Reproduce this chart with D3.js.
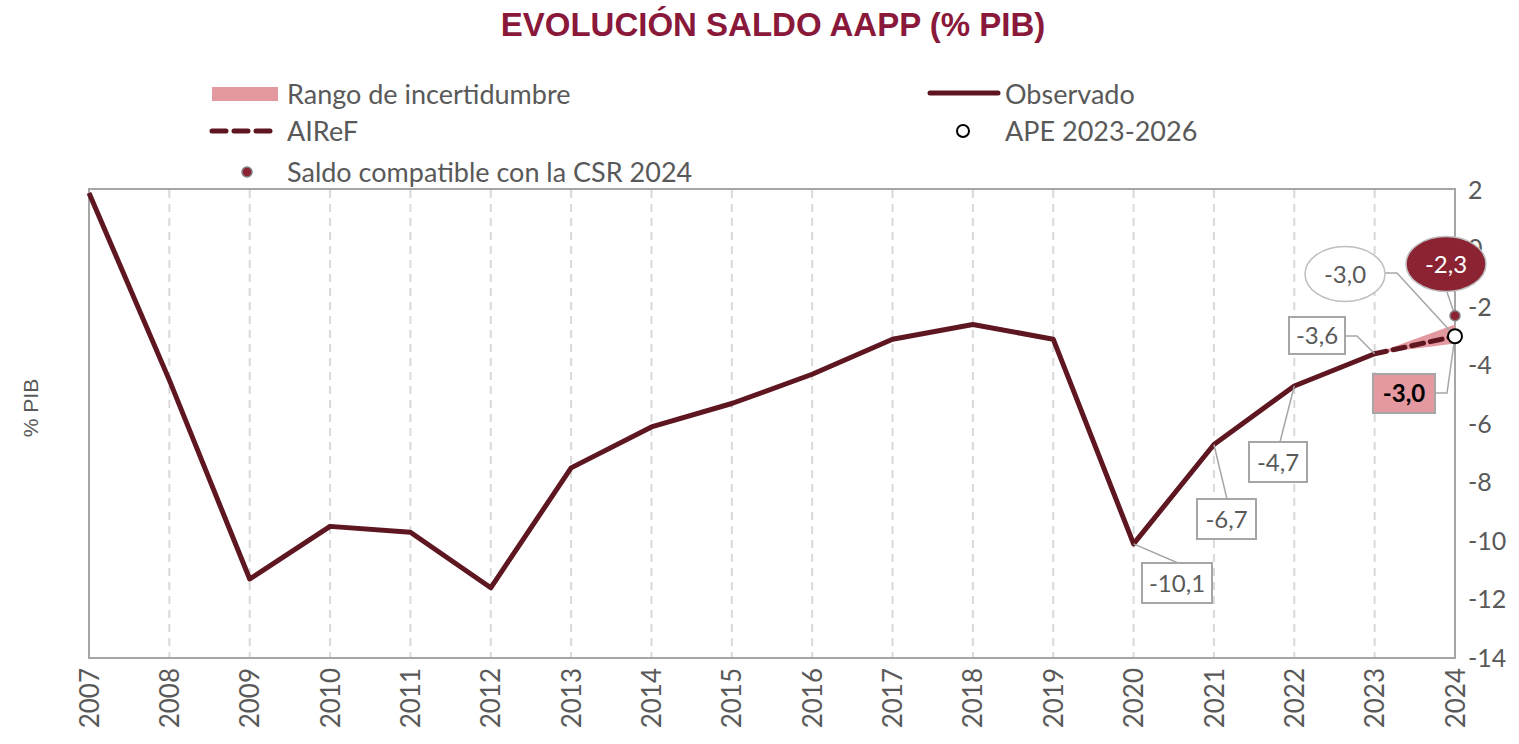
<!DOCTYPE html>
<html><head><meta charset="utf-8">
<script src="https://cdn.jsdelivr.net/npm/d3@7"></script>
<style>body{margin:0;background:#fff}svg{display:block}</style>
</head><body><svg id="c" width="1519" height="744"></svg>
<script>
const years = [2007,2008,2009,2010,2011,2012,2013,2014,2015,2016,2017,2018,2019,2020,2021,2022,2023];
const observed = [1.9,-4.5,-11.3,-9.5,-9.7,-11.6,-7.5,-6.1,-5.3,-4.3,-3.1,-2.6,-3.1,-10.1,-6.7,-4.7,-3.6];
const airefYears = [2023,2024];
const airef = [-3.6,-3.0];
const rangeLow = [-3.6,-3.25];
const rangeHigh = [-3.6,-2.6];
const apeYear = 2024, apeValue = -3.0;
const csrYear = 2024, csrValue = -2.3;
const xTicks = [2007,2008,2009,2010,2011,2012,2013,2014,2015,2016,2017,2018,2019,2020,2021,2022,2023,2024];
const yTicks = [2,0,-2,-4,-6,-8,-10,-12,-14];

const svg = d3.select("#c");
const F = "'Lato','Open Sans',sans-serif";
const grey = "#595959";
const x = d3.scaleLinear().domain([2007,2024]).range([89,1455]);
const y = d3.scaleLinear().domain([-14,2]).range([658,190]);

// title
svg.append("text").attr("x",773).attr("y",36).attr("text-anchor","middle")
  .attr("font-family","'Liberation Sans',Arial,sans-serif").attr("font-weight","bold")
  .attr("font-size",33).attr("fill","#89183A").text("EVOLUCIÓN SALDO AAPP (% PIB)");

// gridlines
svg.append("g").selectAll("line").data(xTicks.slice(1,-1)).join("line")
  .attr("x1",d=>x(d)).attr("x2",d=>x(d)).attr("y1",190).attr("y2",658)
  .attr("stroke","#D9D9D9").attr("stroke-width",2).attr("stroke-dasharray","8,6");

// frame
svg.append("rect").attr("x",89).attr("y",189).attr("width",1366).attr("height",469)
  .attr("fill","none").attr("stroke","#A6A6A6").attr("stroke-width",2);

// right axis
const ya = d3.axisRight(y).tickValues(yTicks).tickSize(0).tickPadding(13)
  .tickFormat(d=>d3.format("d")(d).replace("−","-"));
const gy = svg.append("g").attr("transform","translate(1455,0)").call(ya);
gy.select(".domain").remove();
gy.selectAll("text").attr("font-family",F).attr("font-size",25).attr("fill",grey);

// x axis
const xa = d3.axisBottom(x).tickValues(xTicks).tickSize(0).tickFormat(d3.format("d"));
const gx = svg.append("g").attr("transform","translate(0,658)").call(xa);
gx.select(".domain").remove();
gx.selectAll("text").attr("font-family",F).attr("font-size",26).attr("fill",grey)
  .attr("transform","rotate(-90)").attr("text-anchor","end").attr("dy","0.35em")
  .attr("x",-10).attr("y",0);

// y label
svg.append("text").attr("transform","translate(38,408) rotate(-90)").attr("text-anchor","middle")
  .attr("font-family","'Liberation Sans',Arial,sans-serif").attr("font-size",21).attr("fill",grey).text("% PIB");

// range area
const area = d3.area().x((d,i)=>x(airefYears[i])).y0((d,i)=>y(rangeLow[i])).y1((d,i)=>y(rangeHigh[i]));
svg.append("path").datum(airef).attr("d",area).attr("fill","#E4989F");

// observed line
const line = d3.line().x((d,i)=>x(years[i])).y(d=>y(d));
svg.append("path").datum(observed).attr("d",line).attr("fill","none")
  .attr("stroke","#5E1620").attr("stroke-width",5).attr("stroke-linejoin","round");

// airef dashed
svg.append("path").datum(airef).attr("d",d3.line().x((d,i)=>x(airefYears[i])).y(d=>y(d)))
  .attr("fill","none").attr("stroke","#5E1620").attr("stroke-width",5).attr("stroke-dasharray","12,7").attr("stroke-linecap","round");

// leader lines
const lead = (pts)=>svg.append("polyline").attr("points",pts.map(p=>p.join(",")).join(" "))
  .attr("fill","none").attr("stroke","#A6A6A6").attr("stroke-width",1.5);

const obs = (yr)=>[x(yr), y(observed[years.indexOf(yr)])];
lead([obs(2020),[1178,563]]);
lead([obs(2021),[1227,499]]);
lead([obs(2022),[1280,442]]);
lead([[1345,336],[1357,336],obs(2023)]);
lead([[1435,393],[1447,393],[x(2024),y(airef[1])]]);
lead([[1385,273],[1397,273],[x(apeYear),y(apeValue)]]);
lead([[1447,292],[x(csrYear),y(csrValue)]]);

// boxes
function box(x0,y0,w,h,txt,opt={}){
  svg.append("rect").attr("x",x0).attr("y",y0).attr("width",w).attr("height",h)
    .attr("fill",opt.fill||"#fff").attr("stroke","#A6A6A6").attr("stroke-width",2);
  svg.append("text").attr("x",x0+w/2).attr("y",y0+h/2).attr("dy","0.36em").attr("text-anchor","middle")
    .attr("font-family",F).attr("font-size",24).attr("font-weight",opt.bold?"bold":"normal")
    .attr("fill",opt.color||grey).text(txt);
}
box(1142,563,70,40,"-10,1");
box(1197,499,59,40,"-6,7");
box(1249,442,58,40,"-4,7");
box(1289,317,56,37,"-3,6");
box(1373,374,62,39,"-3,0",{fill:"#E4989F",bold:true,color:"#000"});

// ellipses
svg.append("ellipse").attr("cx",1345).attr("cy",274).attr("rx",40).attr("ry",27.5)
  .attr("fill","#fff").attr("stroke","#BFBFBF").attr("stroke-width",1.5);
svg.append("text").attr("x",1345).attr("y",274).attr("dy","0.36em").attr("text-anchor","middle")
  .attr("font-family",F).attr("font-size",24).attr("fill",grey).text("-3,0");
svg.append("ellipse").attr("cx",1446).attr("cy",264).attr("rx",40).attr("ry",27.5)
  .attr("fill","#8B2332").attr("stroke","#BFBFBF").attr("stroke-width",1.5);
svg.append("text").attr("x",1446).attr("y",264).attr("dy","0.36em").attr("text-anchor","middle")
  .attr("font-family",F).attr("font-size",24).attr("fill","#fff").text("-2,3");

// markers
svg.append("circle").attr("cx",x(csrYear)).attr("cy",y(csrValue)).attr("r",5)
  .attr("fill","#8B2332").attr("stroke","#808080").attr("stroke-width",1.5);
svg.append("circle").attr("cx",x(apeYear)).attr("cy",y(apeValue)).attr("r",7)
  .attr("fill","#fff").attr("stroke","#000").attr("stroke-width",2);

// legend
const lg = svg.append("g").attr("font-family",F).attr("font-size",27).attr("fill",grey);
lg.append("rect").attr("x",212).attr("y",87).attr("width",66).attr("height",14).attr("fill","#E4989F");
lg.append("text").attr("x",287).attr("y",104).text("Rango de incertidumbre");
lg.append("line").attr("x1",212).attr("x2",274).attr("y1",131).attr("y2",131)
  .attr("stroke","#5E1620").attr("stroke-width",5).attr("stroke-dasharray","14,8").attr("stroke-linecap","round");
lg.append("text").attr("x",287).attr("y",141).text("AIReF");
lg.append("circle").attr("cx",247).attr("cy",172).attr("r",5).attr("fill","#8B2332").attr("stroke","#808080").attr("stroke-width",1.5);
lg.append("text").attr("x",287).attr("y",182).text("Saldo compatible con la CSR 2024");
lg.append("line").attr("x1",930).attr("x2",998).attr("y1",93).attr("y2",93)
  .attr("stroke","#5E1620").attr("stroke-width",5).attr("stroke-linecap","round");
lg.append("text").attr("x",1005).attr("y",104).text("Observado");
lg.append("circle").attr("cx",963).attr("cy",131).attr("r",6).attr("fill","#fff").attr("stroke","#000").attr("stroke-width",2);
lg.append("text").attr("x",1005).attr("y",141).text("APE 2023-2026");
</script></body></html>
